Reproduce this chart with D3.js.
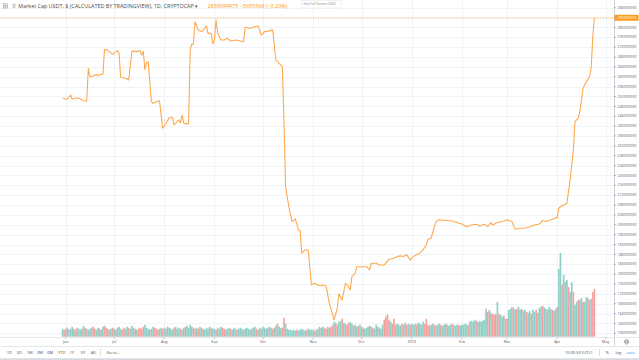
<!DOCTYPE html>
<html><head><meta charset="utf-8">
<script src="https://cdn.jsdelivr.net/npm/d3@7"></script>
<style>html,body{margin:0;padding:0;background:#fff;overflow:hidden}svg{display:block}</style>
</head><body><svg id="c" width="640" height="360"></svg>
<script>
// ---------------- DATA ----------------
const titleText = "Market Cap USDT, $ (CALCULATED BY TRADINGVIEW), 1D, CRYPTOCAP";
const lastValue = 2839094975;
const lastChange = -5655568;
const lastChangePct = -0.20;

const lineDates = ["2018-05-30","2018-06-02","2018-06-04","2018-06-05","2018-06-08","2018-06-10","2018-06-12","2018-06-14","2018-06-15","2018-06-16","2018-06-18","2018-06-20","2018-06-21","2018-06-22","2018-06-24","2018-06-25","2018-06-26","2018-06-28","2018-06-30","2018-07-03","2018-07-04","2018-07-05","2018-07-08","2018-07-10","2018-07-12","2018-07-15","2018-07-17","2018-07-18","2018-07-19","2018-07-20","2018-07-21","2018-07-22","2018-07-24","2018-07-25","2018-07-27","2018-07-29","2018-07-31","2018-08-02","2018-08-04","2018-08-06","2018-08-07","2018-08-10","2018-08-11","2018-08-12","2018-08-13","2018-08-16","2018-08-17","2018-08-18","2018-08-19","2018-08-20","2018-08-22","2018-08-24","2018-08-25","2018-08-27","2018-08-28","2018-08-30","2018-08-31","2018-09-01","2018-09-02","2018-09-03","2018-09-05","2018-09-07","2018-09-09","2018-09-11","2018-09-14","2018-09-17","2018-09-19","2018-09-20","2018-09-23","2018-09-26","2018-09-28","2018-09-30","2018-10-02","2018-10-05","2018-10-07","2018-10-09","2018-10-10","2018-10-13","2018-10-14","2018-10-15","2018-10-17","2018-10-19","2018-10-21","2018-10-23","2018-10-24","2018-10-25","2018-10-27","2018-10-29","2018-10-31","2018-11-02","2018-11-05","2018-11-07","2018-11-09","2018-11-11","2018-11-12","2018-11-14","2018-11-16","2018-11-17","2018-11-19","2018-11-20","2018-11-21","2018-11-23","2018-11-24","2018-11-25","2018-11-27","2018-11-28","2018-12-01","2018-12-04","2018-12-06","2018-12-07","2018-12-10","2018-12-12","2018-12-15","2018-12-18","2018-12-21","2018-12-23","2018-12-25","2018-12-27","2018-12-29","2018-12-31","2019-01-02","2019-01-04","2019-01-06","2019-01-08","2019-01-10","2019-01-11","2019-01-13","2019-01-15","2019-01-16","2019-01-18","2019-01-23","2019-01-26","2019-01-29","2019-02-01","2019-02-04","2019-02-07","2019-02-10","2019-02-12","2019-02-15","2019-02-17","2019-02-19","2019-02-20","2019-02-23","2019-02-26","2019-03-01","2019-03-04","2019-03-06","2019-03-09","2019-03-12","2019-03-15","2019-03-18","2019-03-21","2019-03-23","2019-03-25","2019-03-29","2019-04-01","2019-04-02","2019-04-03","2019-04-06","2019-04-07","2019-04-09","2019-04-11","2019-04-12","2019-04-14","2019-04-15","2019-04-16","2019-04-17","2019-04-19","2019-04-21","2019-04-22","2019-04-23","2019-04-24"];
// market cap in millions of USD
const lineValues = [2513,2509,2526,2509,2515,2511,2503,2502,2634,2600,2603,2610,2603,2610,2610,2709,2711,2702,2691,2706,2695,2598,2594,2587,2704,2702,2706,2688,2702,2630,2657,2661,2499,2492,2499,2503,2391,2411,2434,2436,2405,2425,2414,2445,2411,2409,2709,2733,2732,2823,2790,2783,2787,2806,2776,2776,2733,2749,2830,2776,2749,2749,2756,2745,2749,2745,2742,2801,2797,2803,2806,2769,2783,2786,2790,2668,2661,2641,2425,2155,2073,2013,2024,1979,1976,1885,1898,1898,1756,1763,1753,1756,1753,1682,1662,1614,1662,1720,1695,1729,1763,1749,1736,1790,1803,1830,1830,1830,1817,1844,1844,1837,1837,1860,1864,1871,1874,1871,1878,1857,1871,1878,1885,1898,1918,1941,1945,1992,2013,2020,2017,2015,2009,2003,1992,1999,2002,1995,2002,1992,2009,1999,2009,2013,2020,2013,1982,1986,1986,1992,1999,2003,2017,2013,2022,2030,2067,2073,2083,2087,2182,2303,2418,2432,2458,2506,2553,2580,2600,2634,2760,2839.094975];

// daily volume (relative units), first bar 2018-05-30
const volumeStart = "2018-05-30";
const volMay = [8,7];
const volJun = [8,9,7,8,10,8,7,9,8,7,8,11,9,8,7,8,9,10,8,7,9,8,7,10,11,9,8,7,8,9];
const volJul = [8,7,9,10,8,7,9,8,10,9,8,11,9,8,7,8,9,8,10,12,9,8,7,8,10,9,8,7,8,9,8];
const volAug = [9,8,10,9,8,7,9,10,8,9,8,7,9,10,11,9,12,10,9,8,9,8,10,9,8,7,9,8,10,9,8];
const volSep = [8,7,9,8,10,9,8,7,8,9,8,7,9,8,7,8,9,8,7,8,9,8,7,8,9,10,8,7,9,8];
const volOct = [10,9,8,9,10,9,8,9,11,13,10,9,9,19,13,8,7,7,6,7,6,7,6,7,8,7,6,7,8,7,7];
const volNov = [7,6,7,8,10,9,10,9,8,10,9,10,12,15,14,12,15,16,18,14,13,12,14,15,13,11,12,10,11,12];
const volDec = [10,9,8,9,10,11,10,9,8,12,10,9,8,12,17,20,22,17,15,13,18,12,13,12,11,13,12,14,12,13,12];
const volJan = [13,12,13,12,14,13,12,15,13,18,12,11,12,13,12,11,12,13,12,11,12,13,12,11,12,13,12,11,12,12,11];
const volFeb = [12,12,13,12,12,15,16,15,17,16,15,16,15,16,17,28,25,27,24,23,22,23,35,23,22,20,21,18];
const volMar = [18,27,28,30,29,27,28,30,27,28,26,27,25,24,26,23,27,25,27,24,29,30,31,29,28,27,30,28,27,26,28];
const volApr = [30,68,84,52,62,55,57,50,45,55,45,32,35,37,37,39,35,35,40,39,37,38,45,48];
// u = up day (teal), d = down day (red)
const dirMay = "ud";
const dirJun = "uduuududuuduuduuudduuduuddudud";
const dirJul = "uuduudduuduuududddduuuduuddudu";
const dirAug = "duuduuuduuuduuduuudududuuduuuud";
const dirSep = "uuduuudduuuduuuduuuduuuuduuduu";
const dirOct = "duuuduuduuduudduuuuuuuduuuuuduu";
const dirNov = "uuduuduudduuddudduuduudduuduudu";
const dirDec = "uduuududuuuduudddduddduuuddududu";
const dirJan = "uuduuuudddduuduuuduuuduuduuuduu";
const dirFeb = "uuuduuuuduuuuuudduddduduudud";
const dirMar = "uuduuduuduuduuduuduuuduuduuduud";
const dirApr = "uuduuuduuduuduuduuddudd";

const monthTickDates = ["2018-06-01","2018-07-01","2018-08-01","2018-09-01","2018-10-01","2018-11-01","2018-12-01","2019-01-01","2019-02-01","2019-03-01","2019-04-01","2019-05-01"];
const monthTickLabels = ["Jun","Jul","Aug","Sep","Oct","Nov","Dec","2019","Feb","Mar","Apr","May"];
const yTickMin = 1560000000, yTickMax = 2880000000, yTickStep = 40000000;
const rangeButtons = ["1D","5D","1M","3M","6M","YTD","1Y","5Y","All"];
const clockText = "10:35:53 (UTC)";
const rightButtons = ["%","log","auto"];

// ---------------- DRAW ----------------
const W = 640, H = 360;
const axisX = 614, plotBottom = 337.5;
const parse = d3.utcParse("%Y-%m-%d");
const svg = d3.select("#c");
const font = "'Open Sans', 'Noto Sans', sans-serif";

const x = d3.scaleUtc()
  .domain([parse("2018-06-01"), parse("2019-05-01")])
  .range([65.7, 605.7]);
const y = d3.scaleLinear().domain([yTickMin, yTickMax]).range([333.3, 7.7]);

const volume = [].concat(volMay, volJun, volJul, volAug, volSep, volOct, volNov, volDec, volJan, volFeb, volMar, volApr);
const dirs = (dirMay + dirJun + dirJul + dirAug + dirSep + dirOct + dirNov + dirDec + dirJan + dirFeb + dirMar + dirApr);
const vStart = parse(volumeStart);
const vy = d3.scaleLinear().domain([0, d3.max(volume)]).range([plotBottom - 0.8, 253]);

svg.append("rect").attr("width", W).attr("height", H).attr("fill", "#fff");

svg.append("clipPath").attr("id", "plot").append("rect")
  .attr("x", 0).attr("y", 0).attr("width", axisX).attr("height", plotBottom);

const grid = svg.append("g").attr("clip-path", "url(#plot)");
const yTicks = d3.range(yTickMin, yTickMax + 1, yTickStep);
grid.selectAll("line.h").data(yTicks).join("line")
  .attr("x1", 0).attr("x2", axisX)
  .attr("y1", d => Math.round(y(d)) + 0.5).attr("y2", d => Math.round(y(d)) + 0.5)
  .attr("stroke", "#f0f3f7").attr("stroke-width", 1);
const mTicks = monthTickDates.map(parse);
grid.selectAll("line.v").data(mTicks).join("line")
  .attr("y1", 0).attr("y2", plotBottom)
  .attr("x1", d => Math.round(x(d)) + 0.5).attr("x2", d => Math.round(x(d)) + 0.5)
  .attr("stroke", "#f0f3f7").attr("stroke-width", 1);

// volume bars
const dayW = x(d3.utcDay.offset(vStart, 1)) - x(vStart);
const plot = svg.append("g").attr("clip-path", "url(#plot)");
plot.selectAll("rect.vol").data(volume).join("rect")
  .attr("x", (d, i) => x(d3.utcDay.offset(vStart, i)) - dayW / 2)
  .attr("width", dayW + 0.05)
  .attr("y", d => vy(d))
  .attr("height", d => vy(0) - vy(d))
  .attr("fill", (d, i) => (dirs[i] || "u") === "d" ? "#f5a3a1" : "#8fd0c9");

// price line
const lineData = lineDates.map((s, i) => ({ date: parse(s), value: lineValues[i] * 1e6 }));
plot.append("path").datum(lineData)
  .attr("fill", "none").attr("stroke", "#ffa94d").attr("stroke-width", 1.1)
  .attr("stroke-linejoin", "round")
  .attr("d", d3.line().x(d => x(d.date)).y(d => y(d.value)));

// last price horizontal line
svg.append("line")
  .attr("x1", 0).attr("x2", axisX)
  .attr("y1", y(lastValue)).attr("y2", y(lastValue))
  .attr("stroke", "#ffb870").attr("stroke-width", 0.8).attr("stroke-dasharray", "1.5,1");

// right axis
const ax = svg.append("g").attr("transform", `translate(${axisX},0)`);
ax.append("line").attr("x1", 0.5).attr("x2", 0.5).attr("y1", 0).attr("y2", plotBottom).attr("stroke", "#cfd3da");
ax.selectAll("g.t").data(yTicks).join("g")
  .attr("transform", d => `translate(0,${y(d)})`)
  .call(g => {
    g.append("line").attr("x1", 0).attr("x2", 2.2).attr("stroke", "#8a8f99").attr("stroke-width", 0.6);
    g.append("text").attr("x", 3.6).attr("dy", "0.35em")
      .attr("font-family", font).attr("font-size", 3.3).attr("fill", "#555")
      .text(d => d3.format("d")(d));
  });
// last value label
ax.append("rect").attr("x", 0.5).attr("y", y(lastValue) - 3).attr("width", 24).attr("height", 6).attr("fill", "#ff9a1f");
ax.append("text").attr("x", 3.6).attr("y", y(lastValue)).attr("dy", "0.35em")
  .attr("font-family", font).attr("font-size", 3.3).attr("fill", "#fff")
  .text(d3.format("d")(lastValue));

// bottom time axis
svg.append("line").attr("x1", 0).attr("x2", W).attr("y1", plotBottom).attr("y2", plotBottom).attr("stroke", "#e6e8ec");
svg.selectAll("text.m").data(mTicks).join("text")
  .attr("x", d => x(d)).attr("y", 343.2)
  .attr("text-anchor", "middle")
  .attr("font-family", font).attr("font-size", 3.7).attr("fill", "#555")
  .text((d, i) => monthTickLabels[i]);
svg.selectAll("line.mt").data(mTicks).join("line")
  .attr("x1", d => x(d)).attr("x2", d => x(d)).attr("y1", plotBottom).attr("y2", plotBottom + 1.8)
  .attr("stroke", "#8a8f99").attr("stroke-width", 0.5);
svg.append("line").attr("x1", axisX + 0.5).attr("x2", axisX + 0.5).attr("y1", plotBottom).attr("y2", 346).attr("stroke", "#cfd3da");

// gear icon
const gear = svg.append("g").attr("transform", `translate(626.5,341.8)`);
gear.append("circle").attr("r", 2.2).attr("fill", "none").attr("stroke", "#555").attr("stroke-width", 0.8).attr("stroke-dasharray", "1.1,0.6");
gear.append("circle").attr("r", 1.1).attr("fill", "none").attr("stroke", "#555").attr("stroke-width", 0.6);

// toolbar
svg.append("line").attr("x1", 0).attr("x2", W).attr("y1", 346.5).attr("y2", 346.5).attr("stroke", "#e3e6ea");
svg.append("rect").attr("x", 0).attr("y", 358.3).attr("width", W).attr("height", 1.7).attr("fill", "#d6d9de");
const rbX = [9.3, 19.3, 29.6, 40, 50.2, 61.7, 71.8, 83, 93.2];
svg.selectAll("text.rb").data(rangeButtons).join("text")
  .attr("x", (d, i) => rbX[i]).attr("y", 352.4).attr("dy", "0.35em")
  .attr("text-anchor", "middle")
  .attr("font-family", font).attr("font-size", 4).attr("fill", "#4a4a4a")
  .text(d => d);
svg.append("line").attr("x1", 100.5).attr("x2", 100.5).attr("y1", 349).attr("y2", 356).attr("stroke", "#dde0e4");
svg.append("text").attr("x", 106.5).attr("y", 352.4).attr("dy", "0.35em")
  .attr("font-family", font).attr("font-size", 4).attr("fill", "#4a4a4a").text("Go to...");
svg.append("text").attr("x", 578.5).attr("y", 352.4).attr("dy", "0.35em").attr("text-anchor", "middle")
  .attr("font-family", font).attr("font-size", 4.1).attr("fill", "#4a4a4a").text(clockText);
svg.append("line").attr("x1", 599.5).attr("x2", 599.5).attr("y1", 349).attr("y2", 356).attr("stroke", "#dde0e4");
const rbx2 = [607.3, 618.3, 630.8];
svg.selectAll("text.r2").data(rightButtons).join("text")
  .attr("x", (d, i) => rbx2[i]).attr("y", 352.4).attr("dy", "0.35em").attr("text-anchor", "middle")
  .attr("font-family", font).attr("font-size", 4.1)
  .attr("fill", (d, i) => i === 2 ? "#2196f3" : "#4a4a4a")
  .text(d => d);
svg.append("line").attr("x1", 639.5).attr("x2", 639.5).attr("y1", 0).attr("y2", H).attr("stroke", "#d6d9de");

// header
const hdr = svg.append("g");
hdr.append("rect").attr("x", 3.3).attr("y", 3.8).attr("width", 4.2).attr("height", 4.2).attr("fill", "none").attr("stroke", "#888").attr("stroke-width", 0.5);
hdr.append("line").attr("x1", 5.4).attr("x2", 5.4).attr("y1", 3.8).attr("y2", 8).attr("stroke", "#888").attr("stroke-width", 0.5);
hdr.append("line").attr("x1", 3.3).attr("x2", 7.5).attr("y1", 5.9).attr("y2", 5.9).attr("stroke", "#888").attr("stroke-width", 0.5);
[4.2, 5.7, 7.2].forEach(yy => hdr.append("line").attr("x1", 12.5).attr("x2", 15.5).attr("y1", yy).attr("y2", yy).attr("stroke", "#888").attr("stroke-width", 0.6));
hdr.append("text").attr("x", 18.3).attr("y", 6).attr("dy", "0.35em")
  .attr("font-family", font).attr("font-size", 5.4).attr("fill", "#4a4a4a")
  .text(titleText + " \u25BE");
const fmtChg = v => (v < 0 ? "\u2212" : "+") + Math.abs(v);
hdr.append("text").attr("x", 207.5).attr("y", 6).attr("dy", "0.35em")
  .attr("font-family", font).attr("font-size", 5.4).attr("fill", "#ff9800")
  .text(`${lastValue}  ${fmtChg(lastChange)} (${lastChangePct < 0 ? "\u2212" : "+"}${Math.abs(lastChangePct).toFixed(2)}%)`);
hdr.append("rect").attr("x", 301.5).attr("y", 0.5).attr("width", 40).attr("height", 7.5)
  .attr("fill", "#fff").attr("stroke", "#e3e3e3").attr("stroke-width", 0.5);
hdr.append("text").attr("x", 303.5).attr("y", 4.3).attr("dy", "0.35em")
  .attr("font-family", font).attr("font-size", 3.4).attr("fill", "#888").text("Exit Full Screen (ESC)");
</script>
</body></html>
